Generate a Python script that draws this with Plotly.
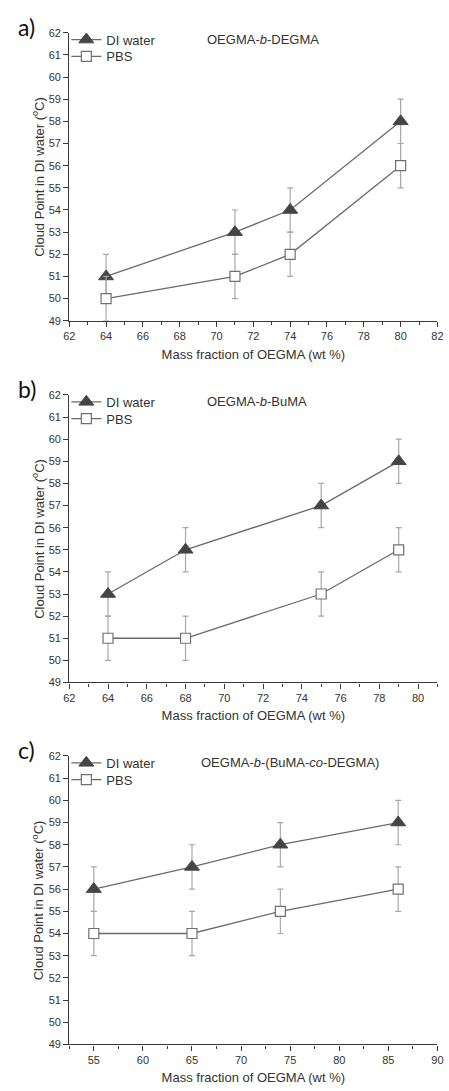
import plotly.graph_objects as go

# Panel a: OEGMA-b-DEGMA
a_x = [64, 71, 74, 80]
a_di = [51, 53, 54, 58]
a_pbs = [50, 51, 52, 56]

# Panel b: OEGMA-b-BuMA
b_x = [64, 68, 75, 79]
b_di = [53, 55, 57, 59]
b_pbs = [51, 51, 53, 55]

# Panel c: OEGMA-b-(BuMA-co-DEGMA)
c_x = [55, 65, 74, 86]
c_di = [56, 57, 58, 59]
c_pbs = [54, 54, 55, 56]

# Error (deg C) on every cloud point
err = [1, 1, 1, 1]

panel_labels = ["a)", "b)", "c)"]
panel_titles = ["OEGMA-<i>b</i>-DEGMA", "OEGMA-<i>b</i>-BuMA",
                "OEGMA-<i>b</i>-(BuMA-<i>co</i>-DEGMA)"]
series_names = ["DI water", "PBS"]
x_title = "Mass fraction of OEGMA (wt %)"
y_title = "Cloud Point in DI water (<sup>o</sup>C)"

W, H = 449, 1091
LINE = "#6a6a6a"
ERR = "#a8a8a8"
AX = "#3a3a3a"
TXT = "#333333"
FONT = "Liberation Sans, Arial, sans-serif"

panels = [
    dict(x=a_x, di=a_di, pbs=a_pbs, xr=[62, 82], dt=2, top=27, bot=318.3, title_x=204),
    dict(x=b_x, di=b_di, pbs=b_pbs, xr=[62, 81], dt=2, top=393.3, bot=684, title_x=204),
    dict(x=c_x, di=c_di, pbs=c_pbs, xr=[52.5, 90], dt=5, top=758.3, bot=1050, title_x=198),
]

x0, x1 = 65 / W, 443.3 / W

fig = go.Figure()
layout = dict(width=W, height=H, margin=dict(l=0, r=0, t=0, b=0),
              paper_bgcolor="white", plot_bgcolor="white", showlegend=True,
              font=dict(family=FONT, color=TXT),
              annotations=[])

styles = [
    dict(symbol="triangle-up", size=13, color="#454545", line=dict(color="#454545", width=1)),
    dict(symbol="square", size=10, color="white", line=dict(color="#707070", width=1.2)),
]

leg_i = 0
for i, p in enumerate(panels):
    n = "" if i == 0 else str(i + 1)
    xa, ya = "x" + n, "y" + n
    y_lo, y_hi = 1 - p["bot"] / H, 1 - p["top"] / H

    for k, (name, ys) in enumerate(zip(series_names, [p["di"], p["pbs"]])):
        leg_i += 1
        leg = "legend" if leg_i == 1 else "legend" + str(leg_i)
        fig.add_trace(go.Scatter(
            x=p["x"], y=ys, name=name, xaxis=xa, yaxis=ya, legend=leg,
            mode="lines+markers", showlegend=True,
            line=dict(color=LINE, width=1.3),
            marker=styles[k],
            error_y=dict(type="data", array=err, color=ERR, thickness=1.2, width=3),
        ))
        layout[leg] = dict(
            x=62 / W, y=1 - (p["top"] + 7 + 17 * k) / H, xanchor="left", yanchor="middle",
            bgcolor="rgba(0,0,0,0)", font=dict(size=13, color=TXT), itemwidth=30,
            visible=True,
        )

    layout["xaxis" + n] = dict(
        domain=[x0, x1], range=p["xr"], anchor=ya, dtick=p["dt"], tick0=0,
        showgrid=False, zeroline=False, showline=True, linecolor=AX, linewidth=1.3,
        ticks="outside", ticklen=5, tickwidth=1.2, tickcolor=AX,
        minor=dict(ticks="outside", ticklen=3, dtick=p["dt"] / 2, tickcolor=AX, tickwidth=1),
        tickfont=dict(size=11, color=TXT), ticklabeloverflow="allow",
        title=dict(text=x_title, font=dict(size=13, color=TXT), standoff=8),
    )
    layout["yaxis" + n] = dict(
        domain=[y_lo, y_hi], range=[49, 62], anchor=xa, dtick=1,
        showgrid=False, zeroline=False, showline=True, linecolor=AX, linewidth=1.3,
        ticks="outside", ticklen=5, tickwidth=1.2, tickcolor=AX,
        tickfont=dict(size=11, color=TXT), ticklabeloverflow="allow",
    )
    layout["annotations"].append(dict(
        text=y_title, x=33 / W, y=(y_lo + y_hi) / 2, xref="paper", yref="paper",
        xanchor="center", yanchor="middle", textangle=-90, showarrow=False,
        font=dict(size=13, color=TXT),
    ))
    layout["annotations"].append(dict(
        text=panel_labels[i], x=10 / W, y=1 - (p["top"] - 6) / H, xref="paper", yref="paper",
        xanchor="left", yanchor="middle", showarrow=False,
        font=dict(family="Lato, Open Sans, sans-serif", size=23, color="#111111"),
    ))
    layout["annotations"].append(dict(
        text=panel_titles[i], x=p["title_x"] / W, y=1 - (p["top"] + 7) / H,
        xref="paper", yref="paper", xanchor="left", yanchor="middle", showarrow=False,
        font=dict(size=13, color=TXT),
    ))

fig.update_layout(**layout)
fig.write_html("out.html")
